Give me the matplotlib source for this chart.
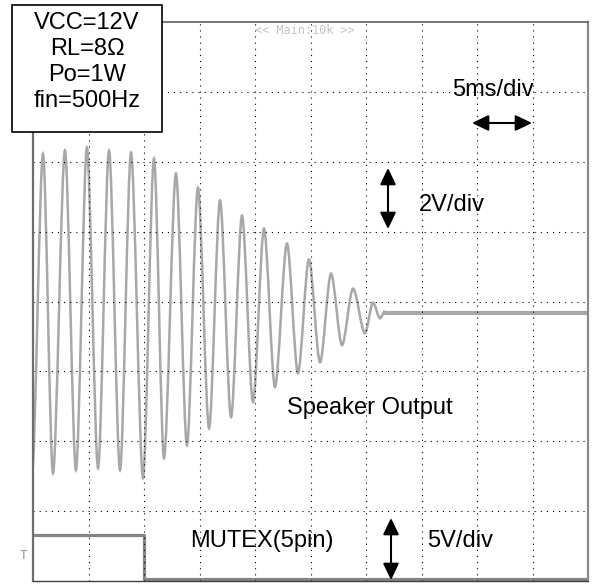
import numpy as np
import matplotlib
matplotlib.use("Agg")
import matplotlib.pyplot as plt
from matplotlib.patches import Rectangle, PathPatch
from matplotlib.path import Path

plt.rcParams['font.family'] = ['Liberation Sans', 'DejaVu Sans']

# speaker output (CH1): extrema of the decaying 500 Hz burst, time in ms, volts
ch1_t = [-0.09, 0.90, 1.80, 2.88, 3.87, 4.86, 5.86, 6.85, 7.84, 8.83, 9.91,
         10.90, 11.80, 12.88, 13.87, 14.86, 15.86, 16.85, 17.84, 18.83, 19.82,
         20.81, 21.80, 22.88, 23.87, 24.86, 25.86, 26.85, 27.84, 28.83, 29.91,
         30.63, 31.26, 31.71]
ch1_v = [-4.57, 4.57, -4.57, 4.66, -4.49, 4.74, -4.43, 4.66, -4.49, 4.60, -4.71,
         4.43, -4.14, 4.00, -3.77, 3.60, -3.29, 3.23, -2.97, 2.80, -2.54,
         2.43, -2.11, 2.00, -1.71, 1.54, -1.40, 1.14, -0.91, 0.71, -0.57,
         0.31, -0.14, 0.06]
tail_t = [31.71, 50.0]
tail_v = [0.0, 0.0]

# MUTEX pin (CH2)
mute_t = [0.0, 10.0, 10.0, 50.0]
mute_v = [3.3, 3.3, 0.12, 0.12]

ms_per_div = 5.0
ch1_vdiv, ch1_pos = 2.0, 3.83
ch2_vdiv, ch2_pos = 5.0, 0.0

info_lines = ['VCC=12V', 'RL=8Ω', 'Po=1W', 'fin=500Hz']

W, H = 592, 584


def px(x, y):
    # pixel position -> figure fraction
    return x / W, 1 - y / H


fig = plt.figure(figsize=(W / 100, H / 100), dpi=100)
ax = fig.add_axes([33 / W, 3 / H, 555 / W, 559 / H])
ax.set_xlim(0, 50)
ax.set_ylim(0, 8)
ax.set_xticks(np.arange(5, 50, 5))
ax.set_yticks(np.arange(1, 8, 1))
ax.tick_params(length=0, labelbottom=False, labelleft=False)
ax.grid(True, color='black', linestyle=(0, (1, 4.5)), linewidth=0.8)

ax.spines['left'].set_color('#6e6e6e')
ax.spines['left'].set_linewidth(1.6)
ax.spines['top'].set_color('#606060')
ax.spines['top'].set_linewidth(1.2)
ax.spines['right'].set_color('#8a8a8a')
ax.spines['right'].set_linewidth(1.6)
ax.spines['bottom'].set_color('#404040')
ax.spines['bottom'].set_linewidth(1.0)

# smooth curve between the read extrema (flat tangents at each peak)
y1 = ch1_pos + np.array(ch1_v) / ch1_vdiv
k = 0.3
verts = [(ch1_t[0], y1[0])]
codes = [Path.MOVETO]
for i in range(1, len(ch1_t)):
    dt = ch1_t[i] - ch1_t[i - 1]
    verts += [(ch1_t[i - 1] + k * dt, y1[i - 1]), (ch1_t[i] - k * dt, y1[i]),
              (ch1_t[i], y1[i])]
    codes += [Path.CURVE4] * 3
ax.add_patch(PathPatch(Path(verts, codes), facecolor='none',
                       edgecolor='#a8a8a8', lw=1.8, zorder=1))
ax.plot(np.array(tail_t), ch1_pos + np.array(tail_v) / ch1_vdiv,
        color='#a8a8a8', lw=3.0, zorder=1)
y2 = ch2_pos + np.array(mute_v) / ch2_vdiv
ax.plot(mute_t, y2, color='#858585', lw=2.3, zorder=1)

# trace header
fig.text(*px(305, 31), '<< Main:10k >>', family='DejaVu Sans Mono',
         fontsize=8.5, color='#c4c4c4', ha='center', va='center')
fig.text(*px(24, 556), 'T', fontsize=9, color='#909090', ha='center', va='center')

# info box
box = Rectangle(px(12, 132), 150 / W, 127 / H, transform=fig.transFigure,
                facecolor='white', edgecolor='black', lw=1.2, zorder=2)
fig.patches.append(box)
for i, s in enumerate(info_lines):
    fig.text(*px(87, 23 + 26 * i), s, fontsize=17, ha='center', va='center',
             zorder=3)

fs = 17
fig.text(*px(493, 90), '5ms/div', fontsize=fs, ha='center', va='center')
fig.text(*px(452, 205), '2V/div', fontsize=fs, ha='center', va='center')
fig.text(*px(370, 408), 'Speaker Output', fontsize=fs, ha='center', va='center')
fig.text(*px(262, 541), 'MUTEX(5pin)', fontsize=fs, ha='center', va='center')
fig.text(*px(460, 541), '5V/div', fontsize=fs, ha='center', va='center')

arrow = dict(arrowstyle='<|-|>,head_length=0.5,head_width=0.24',
             mutation_scale=20, color='black', lw=1.5, shrinkA=0, shrinkB=0)
for (xa, ya), (xb, yb) in [((472, 123), (532, 123)),
                           ((388, 168), (388, 229)),
                           ((391, 518), (391, 580))]:
    ax.annotate('', xy=px(xa, ya), xytext=px(xb, yb),
                xycoords='figure fraction', textcoords='figure fraction',
                arrowprops=arrow, annotation_clip=False)

fig.savefig('out.png', dpi=100)
